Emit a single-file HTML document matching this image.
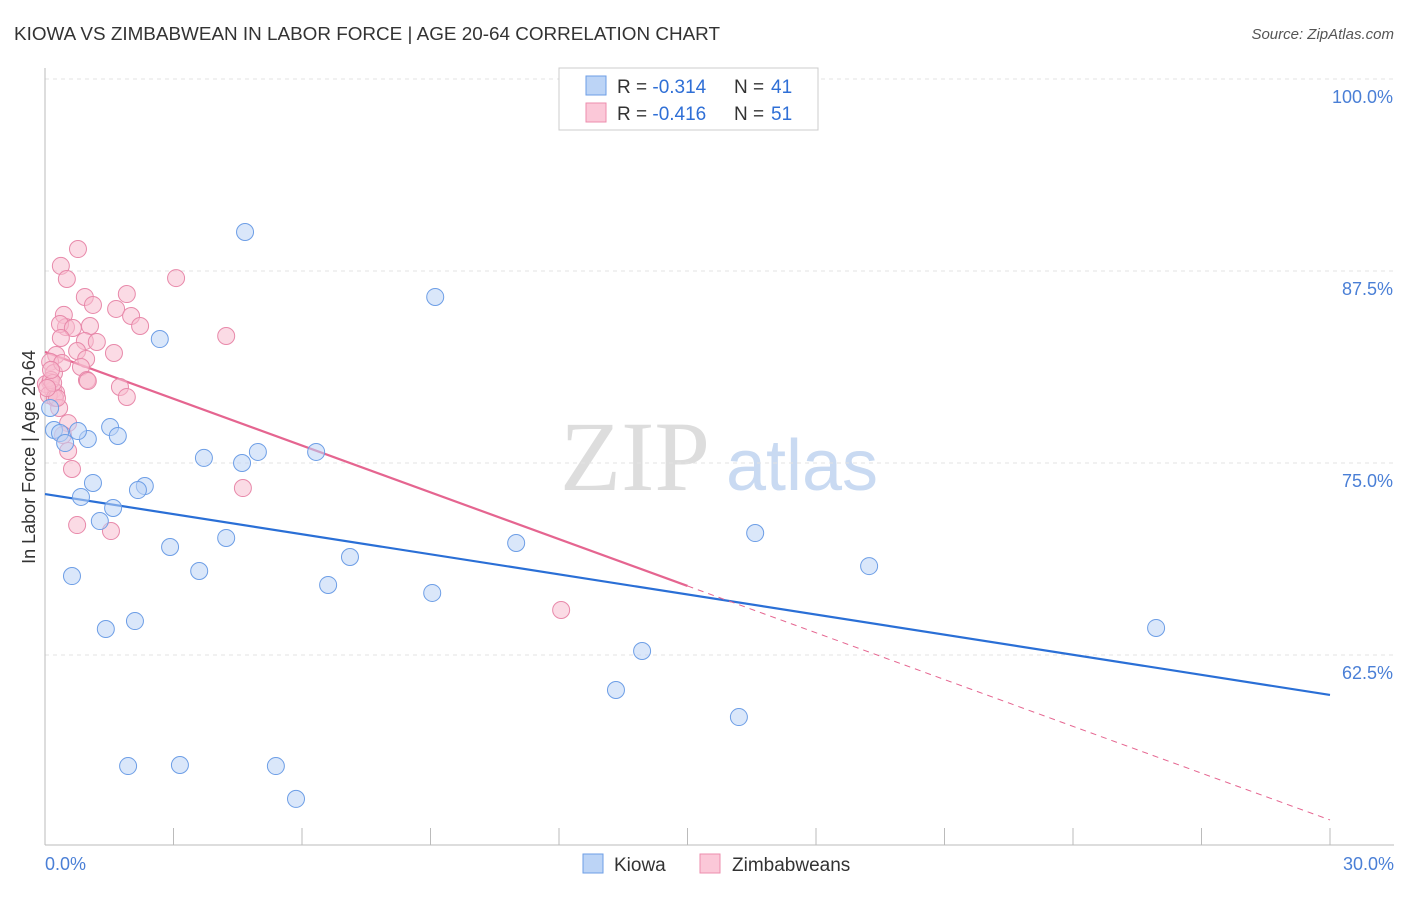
<!DOCTYPE html>
<html><head><meta charset="utf-8"><style>
body{margin:0;background:#fff;font-family:"Liberation Sans",sans-serif;}
svg text{font-family:"Liberation Sans",sans-serif;}
</style></head><body>
<svg id="chart" width="1406" height="892" xmlns="http://www.w3.org/2000/svg">
<text x="14" y="40" font-size="18" fill="#333" textLength="706" lengthAdjust="spacingAndGlyphs">KIOWA VS ZIMBABWEAN IN LABOR FORCE | AGE 20-64 CORRELATION CHART</text>
<text x="1394" y="39" font-size="15" fill="#555" text-anchor="end" font-style="italic">Source: ZipAtlas.com</text>
<g>
<text x="635" y="490" font-size="100" fill="#ddd" text-anchor="middle" style="font-family:'Liberation Serif',serif">ZIP</text>
<text x="802" y="490" font-size="72" fill="#c9daf2" text-anchor="middle">atlas</text>
</g>
<g id="grid"></g>
<g id="axes"></g>
<g id="lines"></g>
<g id="points"></g>
<text x="35" y="457" font-size="18" fill="#333" text-anchor="middle" transform="rotate(-90 35 457)">In Labor Force | Age 20-64</text>
<text x="45" y="870" font-size="18" fill="#4a7fd6">0.0%</text>
<text x="1394" y="870" font-size="18" fill="#4a7fd6" text-anchor="end">30.0%</text>
<g>
<rect x="559" y="68" width="259" height="62" fill="#fff" stroke="#ccc"/>
<rect x="586" y="76" width="20" height="19" fill="#bcd4f6" stroke="#6d9ee6"/>
<rect x="586" y="103" width="20" height="19" fill="#fbc8d8" stroke="#ec8eae"/>
<text x="617" y="93" font-size="19" fill="#333">R = <tspan fill="#2f6fd6">-0.314</tspan></text>
<text x="734" y="93" font-size="19" fill="#333">N =</text>
<text x="771" y="93" font-size="19" fill="#2f6fd6">41</text>
<text x="617" y="120" font-size="19" fill="#333">R = <tspan fill="#2f6fd6">-0.416</tspan></text>
<text x="734" y="120" font-size="19" fill="#333">N =</text>
<text x="771" y="120" font-size="19" fill="#2f6fd6">51</text>
</g>
<g>
<rect x="583" y="854" width="20" height="19" fill="#bcd4f6" stroke="#6d9ee6"/>
<text x="614" y="871" font-size="19" fill="#333">Kiowa</text>
<rect x="700" y="854" width="20" height="19" fill="#fbc8d8" stroke="#ec8eae"/>
<text x="732" y="871" font-size="19" fill="#333">Zimbabweans</text>
</g>
</svg>
<script>
const yTicks=[100,87.5,75,62.5];
const yTickLabels=["100.0%","87.5%","75.0%","62.5%"];
const xTicks=[0,3,6,9,12,15,18,21,24,27,30];
const kiowaX=[4.67,9.11,2.68,0.21,0.35,1.52,1.00,1.70,0.77,0.47,3.71,4.60,4.97,6.33,1.12,2.33,2.17,0.84,1.59,1.28,2.92,4.23,11.00,16.58,7.12,3.60,0.63,6.61,9.04,19.24,2.10,1.42,13.94,25.94,13.33,16.20,1.94,3.15,5.39,5.86,0.12];
const kiowaY=[90.04,85.81,83.07,77.15,76.95,77.34,76.56,76.76,77.08,76.30,75.33,75.00,75.72,75.72,73.70,73.50,73.24,72.79,72.07,71.22,69.53,70.12,69.79,70.44,68.88,67.97,67.64,67.06,66.54,68.29,64.71,64.19,62.76,64.26,60.22,58.46,55.27,55.34,55.27,53.13,78.58];
const zimX=[0.77,0.37,0.51,3.06,0.93,1.91,1.12,1.66,0.44,2.01,0.49,2.22,1.05,0.35,0.65,4.23,0.37,0.93,1.21,0.75,1.61,0.26,0.96,0.12,0.84,0.21,0.98,1.00,0.12,0.02,1.75,0.19,0.26,1.91,0.09,0.23,0.33,0.54,0.42,0.54,0.63,4.62,0.75,1.54,12.05,0.14,0.28,0.19,0.05,0.40,0.14];
const zimY=[88.93,87.83,86.98,87.04,85.81,86.00,85.29,85.03,84.64,84.57,83.85,83.92,83.92,84.05,83.79,83.27,83.14,82.94,82.88,82.29,82.16,82.03,81.77,81.58,81.25,80.86,80.40,80.34,80.27,80.14,79.95,79.75,79.56,79.30,79.43,79.23,78.58,77.60,76.82,75.78,74.61,73.37,70.96,70.57,65.43,80.40,79.23,80.21,79.88,81.51,81.06];
const kiowaTrend=[72.98,59.90];
const zimTrend=[82.23,51.76];
const zimSolidEnd=15;

const NS="http://www.w3.org/2000/svg";
const X0=45,X1=1330,Y100=79,PXPER=192/12.5;
const xs=v=>X0+(v/30)*(X1-X0);
const ys=v=>Y100+(100-v)*PXPER;
function mk(tag,attrs,parent){const e=document.createElementNS(NS,tag);for(const k in attrs)e.setAttribute(k,attrs[k]);document.getElementById(parent).appendChild(e);return e;}

yTicks.forEach((t,i)=>{
 const l=mk('line',{x1:X0,x2:1394,y1:ys(t),y2:ys(t),stroke:'#e3e3e3','stroke-dasharray':'4,4'},'grid');
 
 
 const tx=mk('text',{x:1393,y:ys(t)+24,'font-size':18,fill:'#4a7fd6','text-anchor':'end'},'grid');
 tx.textContent=yTickLabels[i];
 
 
});
const ya=mk('line',{x1:X0,x2:X0,y1:68,y2:845,stroke:'#bbb'},'axes');


const xa=mk('line',{x1:X0,x2:1394,y1:845,y2:845,stroke:'#bbb'},'axes');


xTicks.forEach(t=>{
 const l=mk('line',{x1:xs(t),x2:xs(t),y1:828,y2:845,stroke:'#bbb'},'axes');
 
 
});
function pts(X,Y,fill,stroke,name){
 X.forEach((x,i)=>{
  const c=mk('circle',{cx:xs(x),cy:ys(Y[i]),r:8.5,fill:fill,'fill-opacity':0.55,stroke:stroke,'stroke-width':1},'points');
  
  
 });
}
pts(zimX,zimY,'#f8bdd0','#e889aa','zimbabwean-point');
pts(kiowaX,kiowaY,'#bcd4f6','#6d9ee6','kiowa-point');
const kl=mk('line',{x1:xs(0),y1:ys(kiowaTrend[0]),x2:xs(30),y2:ys(kiowaTrend[1]),stroke:'#2a6fd6','stroke-width':2.2},'lines');


const zAt=x=>zimTrend[0]+(zimTrend[1]-zimTrend[0])*x/30;
const zl=mk('line',{x1:xs(0),y1:ys(zimTrend[0]),x2:xs(zimSolidEnd),y2:ys(zAt(zimSolidEnd)),stroke:'#e56590','stroke-width':2.2},'lines');


const zd=mk('line',{x1:xs(zimSolidEnd),y1:ys(zAt(zimSolidEnd)),x2:xs(30),y2:ys(zimTrend[1]),stroke:'#e56590','stroke-width':1,'stroke-dasharray':'6,5'},'lines');


</script>
</body></html>
